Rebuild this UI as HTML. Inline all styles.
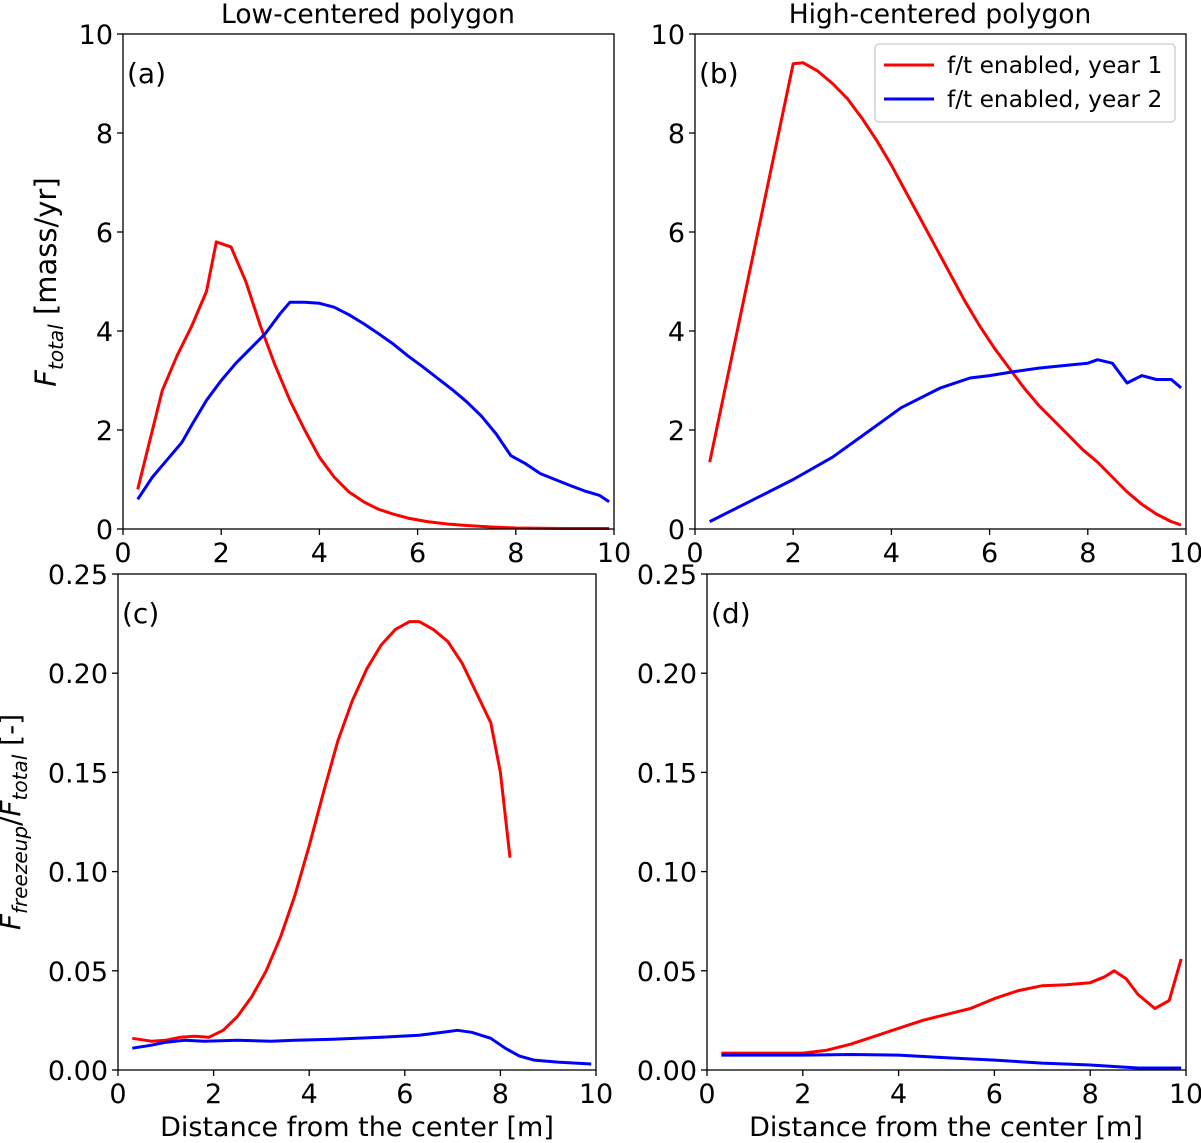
<!DOCTYPE html>
<html><head><meta charset="utf-8"><style>
body{margin:0;background:#fff}
svg{display:block;font-family:"DejaVu Sans","Liberation Sans",sans-serif}
</style></head><body>
<svg id="fig" width="1201" height="1143"></svg>
<script>
const aX=[0.3,0.8,1.1,1.4,1.7,1.9,2.2,2.5,2.8,3.1,3.4,3.7,4.0,4.3,4.6,4.9,5.2,5.5,5.8,6.2,6.6,7,7.5,8,9,9.9];
const aRed=[0.8,2.8,3.5,4.1,4.8,5.8,5.7,5.0,4.1,3.3,2.6,2.0,1.45,1.05,0.75,0.55,0.4,0.3,0.22,0.15,0.1,0.07,0.04,0.02,0.01,0.01];
const aBX=[0.3,0.6,0.9,1.2,1.4,1.7,2.0,2.3,2.6,2.9,3.2,3.4,3.7,4.0,4.3,4.6,4.9,5.2,5.5,5.8,6.1,6.4,6.7,7.0,7.3,7.6,7.9,8.2,8.5,8.8,9.1,9.4,9.7,9.9];
const aBlue=[0.6,1.05,1.4,1.75,2.1,2.6,3.0,3.35,3.65,3.95,4.35,4.58,4.58,4.56,4.48,4.33,4.15,3.95,3.74,3.5,3.28,3.05,2.82,2.57,2.28,1.92,1.48,1.32,1.12,1.0,0.88,0.77,0.68,0.55];
const bRX=[0.3,2.0,2.2,2.5,2.8,3.1,3.4,3.7,4.0,4.3,4.6,4.9,5.2,5.5,5.8,6.1,6.4,6.7,7.0,7.3,7.6,7.9,8.2,8.5,8.8,9.1,9.4,9.7,9.9];
const bRed=[1.35,9.4,9.42,9.25,9.0,8.7,8.3,7.85,7.35,6.8,6.25,5.7,5.15,4.6,4.1,3.65,3.25,2.85,2.5,2.2,1.9,1.6,1.35,1.05,0.75,0.5,0.3,0.15,0.08];
const bBX=[0.3,1.0,2.0,2.8,3.5,4.2,5.0,5.6,6.0,6.5,7.0,7.5,8.0,8.2,8.5,8.8,9.1,9.4,9.7,9.9];
const bBlue=[0.15,0.5,1.0,1.45,1.95,2.45,2.85,3.05,3.1,3.18,3.25,3.3,3.35,3.42,3.35,2.95,3.1,3.02,3.02,2.85];
const cRX=[0.3,0.7,1.0,1.3,1.6,1.9,2.2,2.5,2.8,3.1,3.4,3.7,4.0,4.3,4.6,4.9,5.2,5.5,5.8,6.1,6.3,6.6,6.9,7.2,7.5,7.8,8.0,8.2];
const cRed=[0.016,0.0145,0.015,0.0165,0.017,0.0165,0.02,0.027,0.037,0.05,0.067,0.088,0.113,0.14,0.166,0.186,0.202,0.214,0.222,0.226,0.226,0.222,0.216,0.205,0.19,0.175,0.15,0.107];
const cBX=[0.3,0.7,1.0,1.4,1.8,2.5,3.2,3.7,4.5,5.5,6.3,6.8,7.1,7.4,7.8,8.1,8.4,8.7,9.2,9.9];
const cBlue=[0.011,0.0125,0.014,0.015,0.0145,0.015,0.0145,0.015,0.0155,0.0165,0.0175,0.019,0.02,0.019,0.016,0.011,0.007,0.005,0.004,0.003];
const dRX=[0.3,1.0,2.0,2.5,3.0,3.5,4.0,4.5,5.0,5.5,6.0,6.5,7.0,7.5,8.0,8.3,8.5,8.75,9.0,9.35,9.65,9.9];
const dRed=[0.0085,0.0085,0.0085,0.01,0.013,0.017,0.021,0.025,0.028,0.031,0.036,0.04,0.0425,0.043,0.044,0.047,0.05,0.046,0.038,0.031,0.035,0.056];
const dBX=[0.3,2,3,4,5,6,7,8,9,9.9];
const dBlue=[0.0075,0.0075,0.0078,0.0075,0.0062,0.005,0.0035,0.0025,0.001,0.001];
const xTicks=[0,2,4,6,8,10];
const yTopTicks=[0,2,4,6,8,10];
const yBotTicks=["0.00","0.05","0.10","0.15","0.20","0.25"];

const NS="http://www.w3.org/2000/svg";
const svg=document.getElementById('fig');
function mk(tag,attrs,parent,text){const e=document.createElementNS(NS,tag);for(const k in attrs)e.setAttribute(k,attrs[k]);if(text!==undefined)e.textContent=text;(parent||svg).appendChild(e);return e;}
const panels=[
 {id:'a',L:123,R:614,T:34,B:529,ymax:10,yt:yTopTicks,series:[[aX,aRed,'red'],[aBX,aBlue,'blue']]},
 {id:'b',L:695,R:1186,T:34,B:529,ymax:10,yt:yTopTicks,series:[[bRX,bRed,'red'],[bBX,bBlue,'blue']]},
 {id:'c',L:118,R:596,T:574,B:1070,ymax:0.25,yt:yBotTicks,series:[[cRX,cRed,'red'],[cBX,cBlue,'blue']]},
 {id:'d',L:707,R:1186,T:574,B:1070,ymax:0.25,yt:yBotTicks,series:[[dRX,dRed,'red'],[dBX,dBlue,'blue']]}
];
panels.forEach(p=>{
 const g=mk('g',{});
 
 
 const sx=v=>p.L+(p.R-p.L)*v/10, sy=v=>p.B-(p.B-p.T)*v/p.ymax;
 p.series.forEach(s=>{
  const pts=s[0].map((x,i)=>sx(x).toFixed(1)+','+sy(s[1][i]).toFixed(1)).join(' ');
  const l=mk('polyline',{points:pts,fill:'none',stroke:s[2],'stroke-width':3,'stroke-linejoin':'round'},g);
  
  
 });
 const fr=mk('rect',{x:p.L,y:p.T,width:p.R-p.L,height:p.B-p.T,fill:'none',stroke:'#000','stroke-width':1.3},g);
 
 
 xTicks.forEach(t=>{
  mk('line',{x1:sx(t),x2:sx(t),y1:p.B,y2:p.B+6,stroke:'#000','stroke-width':1.3},g);
  const tx=mk('text',{x:sx(t),y:p.B+33,'font-size':27,'text-anchor':'middle'},g,String(t));
  
  
 });
 p.yt.forEach(t=>{
  const v=parseFloat(t);
  mk('line',{x1:p.L-6,x2:p.L,y1:sy(v),y2:sy(v),stroke:'#000','stroke-width':1.3},g);
  const tx=mk('text',{x:p.L-10,y:sy(v)+10,'font-size':27,'text-anchor':'end'},g,String(t));
  
  
 });
 const pl=mk('text',{x:p.L+4,y:p.T+49,'font-size':28},g,'('+p.id+')');
 
 
});
svg.insertAdjacentHTML('beforeend',`
<text x="368" y="23" font-size="26.5" text-anchor="middle">Low-centered polygon</text>
<text x="940" y="23" font-size="26.5" text-anchor="middle">High-centered polygon</text>
<text x="357" y="1136" font-size="27" text-anchor="middle">Distance from the center [m]</text>
<text x="946" y="1136" font-size="27" text-anchor="middle">Distance from the center [m]</text>
<text transform="translate(56,282) rotate(-90)" font-size="29" text-anchor="middle"><tspan font-style="italic">F</tspan><tspan font-style="italic" font-size="20" dy="7">total</tspan><tspan dy="-7"> [mass/yr]</tspan></text>
<text transform="translate(20,822) rotate(-90)" font-size="28" text-anchor="middle"><tspan font-style="italic">F</tspan><tspan font-style="italic" font-size="20" dy="7">freezeup</tspan><tspan dy="-7">/</tspan><tspan font-style="italic">F</tspan><tspan font-style="italic" font-size="20" dy="7">total</tspan><tspan dy="-7"> [-]</tspan></text>
<g>
<rect x="875" y="44" width="300" height="78" rx="4" fill="#fff" stroke="#ccc" stroke-width="1.3"/>
<line x1="884" x2="934" y1="65" y2="65" stroke="red" stroke-width="3"/>
<text x="947" y="73" font-size="23.3">f/t enabled, year 1</text>
<line x1="884" x2="934" y1="99" y2="99" stroke="blue" stroke-width="3"/>
<text x="947" y="107" font-size="23.3">f/t enabled, year 2</text>
</g>`);
</script>
</body></html>
